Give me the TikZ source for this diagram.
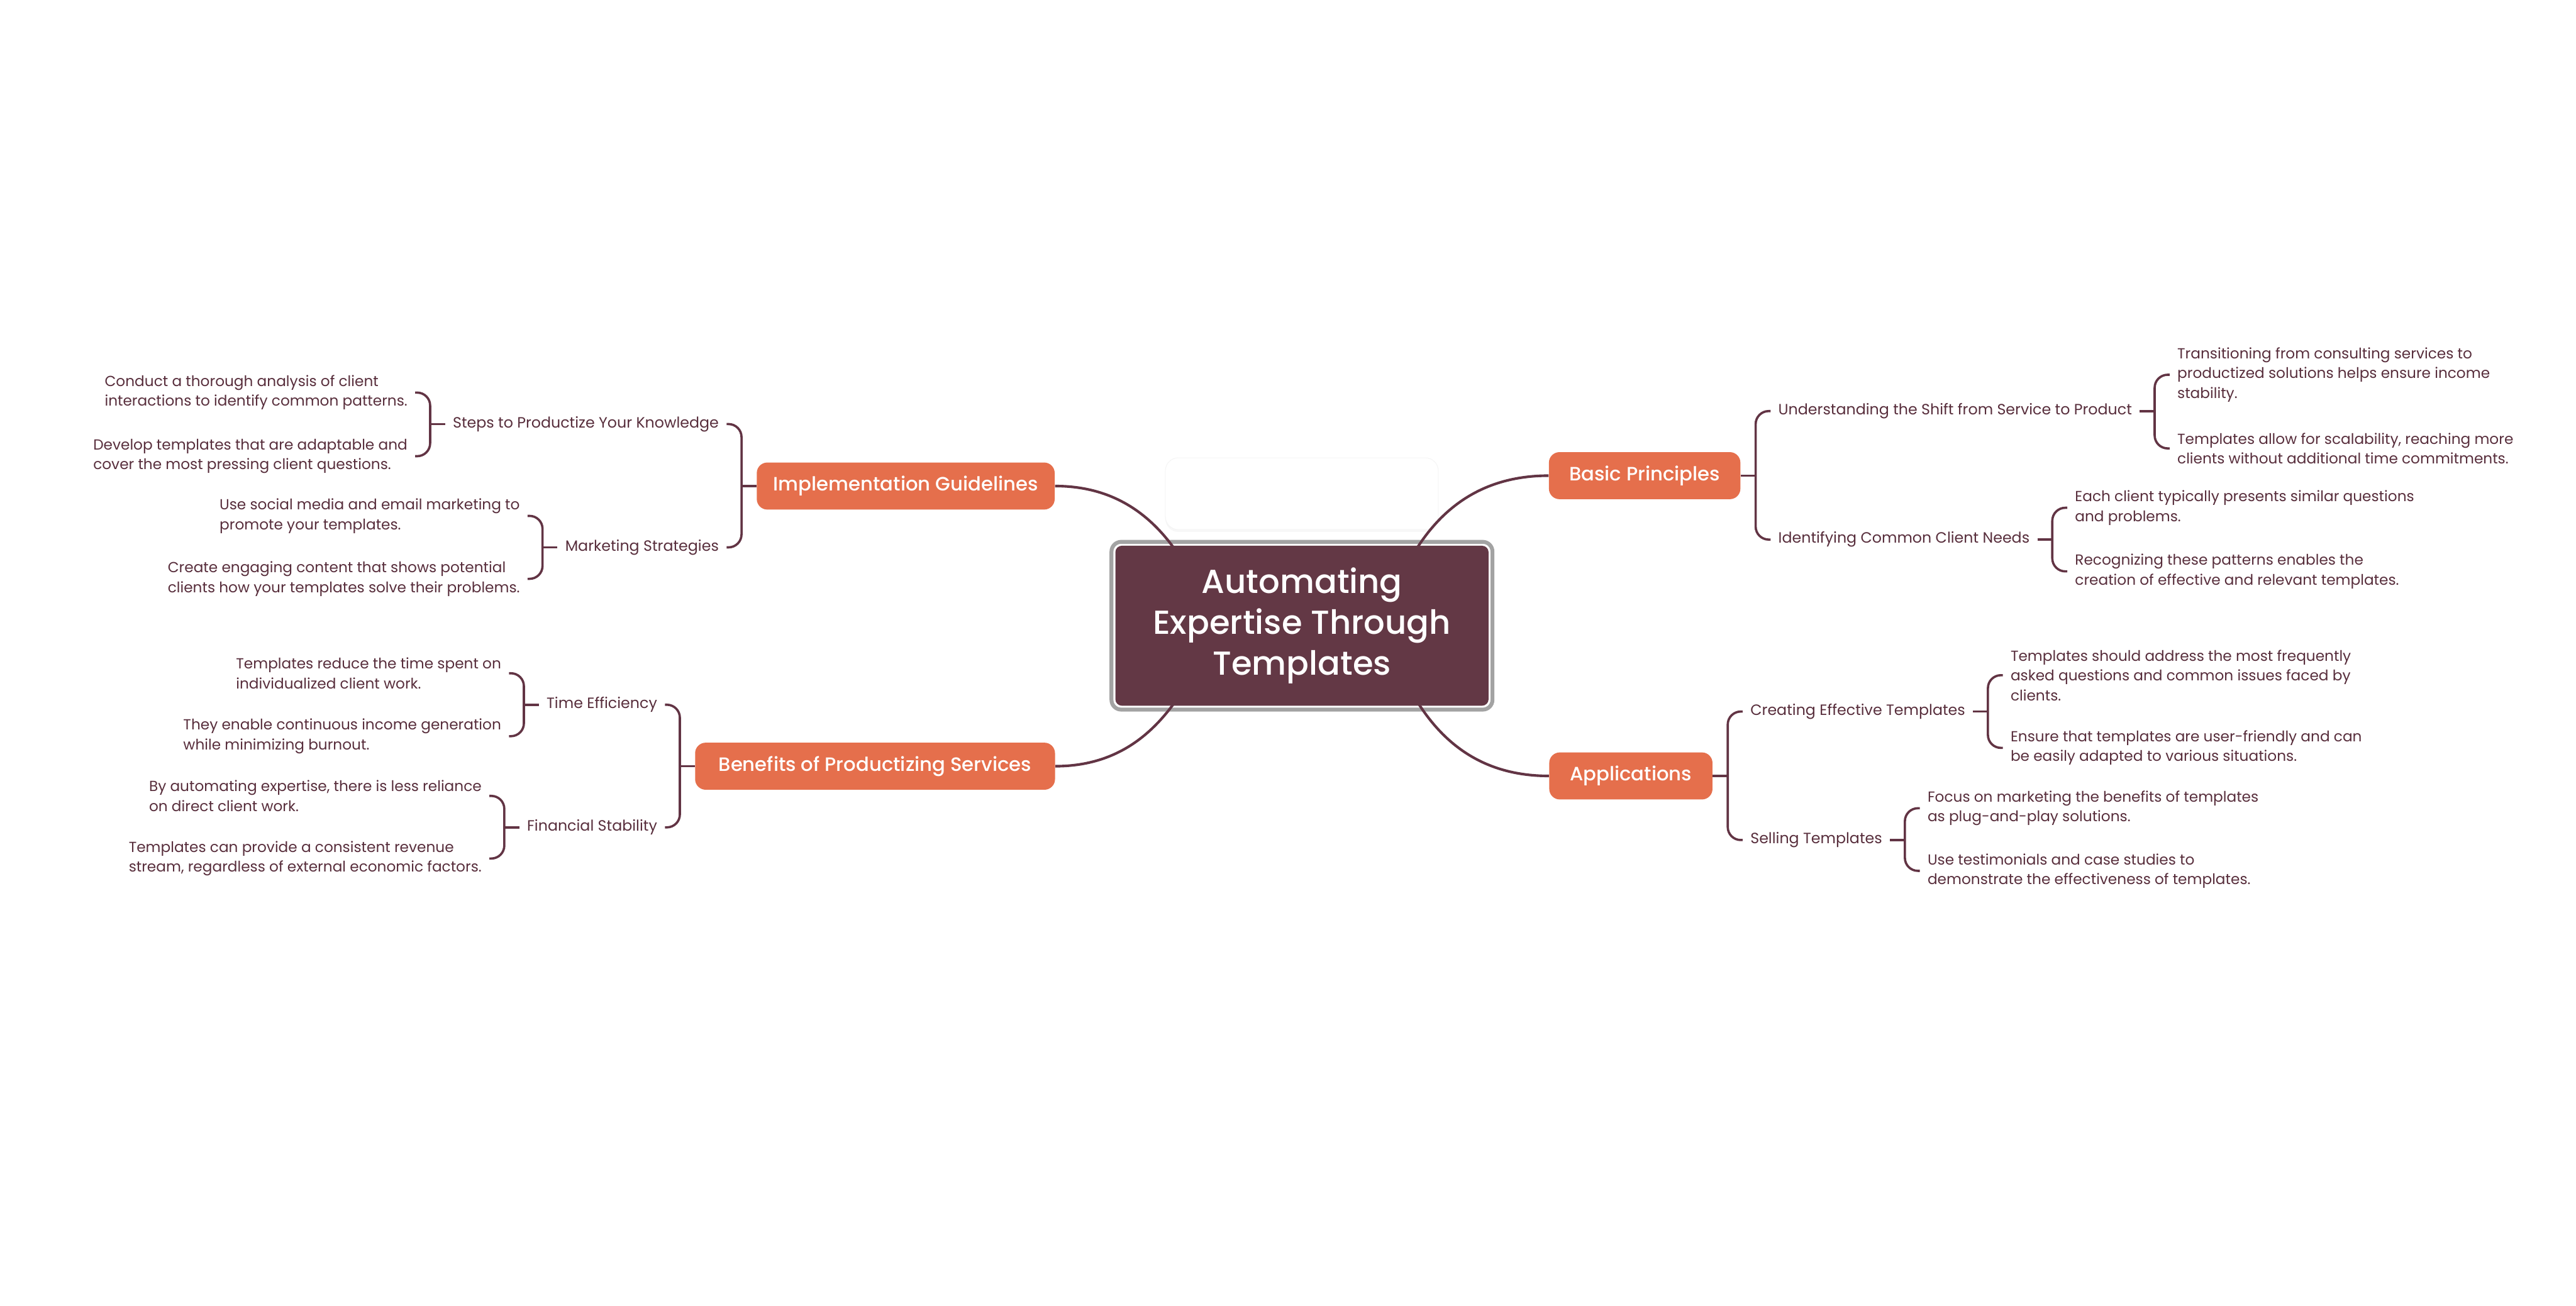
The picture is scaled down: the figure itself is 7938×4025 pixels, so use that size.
\documentclass[tikz,border=0pt]{standalone}
\usepackage{fontspec}
\setmainfont{Poppins}
\newfontfamily\medfont{Poppins Medium}
\usetikzlibrary{calc,backgrounds,shadows}
\definecolor{maroon}{RGB}{99,56,69}
\definecolor{linec}{RGB}{98,52,68}
\definecolor{txtc}{RGB}{88,46,60}
\definecolor{orng}{RGB}{229,111,76}
\definecolor{ringc}{RGB}{163,163,163}
\begin{document}
\begin{tikzpicture}[x=0.2pt,y=-0.2pt,
  rootbox/.style={fill=maroon, rounded corners=4pt, text=white, align=center,
    minimum width=230pt, minimum height=98.6pt, inner sep=0pt,
    font=\medfont\fontsize{20.5pt}{25.3pt}\selectfont},
  mainbox/.style={fill=orng, rounded corners=6.5pt, text=white, minimum height=29pt,
    inner xsep=12.4pt, inner ysep=0pt, font=\medfont\fontsize{11.9pt}{15pt}\selectfont},
  subnode/.style={text=txtc, inner xsep=4.6pt, inner ysep=2pt,
    font=\fontsize{9.2pt}{11pt}\selectfont},
  leafR/.style={text=txtc, align=left, anchor=west, inner xsep=4.6pt, inner ysep=2pt,
    font=\fontsize{9pt}{12.2pt}\selectfont},
  leafL/.style={leafR, anchor=east},
  ghost/.style={fill=white, draw=black!4, rounded corners=8pt, minimum width=168.2pt,
    minimum height=44.2pt, drop shadow={shadow xshift=0pt, shadow yshift=-1.5pt, opacity=0.06}},
  conn/.style={draw=linec, line width=1.6pt},
  brk/.style={draw=linec, line width=1.4pt, rounded corners=8pt},
]
\useasboundingbox (0,0) rectangle (7938,4025);
\begin{scope}[on background layer]
  \fill[white] (0,0) rectangle (7938,4025);
\end{scope}

% root
\node[rootbox] (root) at (4012,1928.5) {Automating\\Expertise Through\\Templates};

% main topics
\node[mainbox, anchor=west, minimum width=118pt] (bp) at (4772,1466) {Basic Principles};
\node[mainbox, anchor=west, minimum width=100.6pt] (ap) at (4773,2391.5) {Applications};
\node[mainbox, anchor=east, inner xsep=10pt, minimum width=183.6pt] (ig) at (3251,1498) {Implementation Guidelines};
\node[mainbox, anchor=east, minimum width=221.8pt] (be) at (3252,2361.5) {Benefits of Productizing Services};

% ---------- Basic Principles
\coordinate (bpv) at ($(bp.east)+(46,0)$);
\coordinate (bpx) at ($(bp.east)+(92,0)$);
\node[subnode, anchor=west] (u) at (bpx |- 0,1267) {Understanding the Shift from Service to Product};
\node[subnode, anchor=west] (id) at (bpx |- 0,1663) {Identifying Common Client Needs};
\coordinate (uv) at ($(u.east)+(46,0)$);
\coordinate (ux) at ($(u.east)+(92,0)$);
\node[leafR] (u1) at (ux |- 0,1155) {Transitioning from consulting services to\\productized solutions helps ensure income\\stability.};
\node[leafR] (u2) at (ux |- 0,1382) {Templates allow for scalability, reaching more\\clients without additional time commitments.};
\coordinate (idv) at ($(id.east)+(46,0)$);
\coordinate (idx) at ($(id.east)+(92,0)$);
\node[leafR] (i1) at (idx |- 0,1565) {Each client typically presents similar questions\\and problems.};
\node[leafR] (i2) at (idx |- 0,1761) {Recognizing these patterns enables the\\creation of effective and relevant templates.};

% ---------- Applications
\coordinate (apv) at ($(ap.east)+(46,0)$);
\coordinate (apx) at ($(ap.east)+(92,0)$);
\node[subnode, anchor=west] (c) at (apx |- 0,2193) {Creating Effective Templates};
\node[subnode, anchor=west] (se) at (apx |- 0,2589) {Selling Templates};
\coordinate (cv) at ($(c.east)+(46,0)$);
\coordinate (cx) at ($(c.east)+(92,0)$);
\node[leafR] (c1) at (cx |- 0,2081) {Templates should address the most frequently\\asked questions and common issues faced by\\clients.};
\node[leafR] (c2) at (cx |- 0,2305) {Ensure that templates are user-friendly and can\\be easily adapted to various situations.};
\coordinate (sev) at ($(se.east)+(46,0)$);
\coordinate (sex) at ($(se.east)+(92,0)$);
\node[leafR] (s1) at (sex |- 0,2491) {Focus on marketing the benefits of templates\\as plug-and-play solutions.};
\node[leafR] (s2) at (sex |- 0,2684) {Use testimonials and case studies to\\demonstrate the effectiveness of templates.};

% ---------- Implementation Guidelines
\coordinate (igv) at ($(ig.west)+(-46,0)$);
\coordinate (igx) at ($(ig.west)+(-92,0)$);
\node[subnode, anchor=east] (st) at (igx |- 0,1307) {Steps to Productize Your Knowledge};
\node[subnode, anchor=east] (ms) at (igx |- 0,1687) {Marketing Strategies};
\coordinate (stv) at ($(st.west)+(-46,0)$);
\coordinate (stx) at ($(st.west)+(-92,0)$);
\node[leafL] (st1) at (stx |- 0,1210) {Conduct a thorough analysis of client\\interactions to identify common patterns.};
\node[leafL] (st2) at (stx |- 0,1406) {Develop templates that are adaptable and\\cover the most pressing client questions.};
\coordinate (msv) at ($(ms.west)+(-46,0)$);
\coordinate (msx) at ($(ms.west)+(-92,0)$);
\node[leafL] (m1) at (msx |- 0,1590) {Use social media and email marketing to\\promote your templates.};
\node[leafL] (m2) at (msx |- 0,1784) {Create engaging content that shows potential\\clients how your templates solve their problems.};

% ---------- Benefits
\coordinate (bev) at ($(be.west)+(-46,0)$);
\coordinate (bex) at ($(be.west)+(-92,0)$);
\node[subnode, anchor=east] (te) at (bex |- 0,2172) {Time Efficiency};
\node[subnode, anchor=east] (fs) at (bex |- 0,2550) {Financial Stability};
\coordinate (tev) at ($(te.west)+(-46,0)$);
\coordinate (tex) at ($(te.west)+(-92,0)$);
\node[leafL] (t1) at (tex |- 0,2075) {Templates reduce the time spent on\\individualized client work.};
\node[leafL] (t2) at (tex |- 0,2269) {They enable continuous income generation\\while minimizing burnout.};
\coordinate (fsv) at ($(fs.west)+(-46,0)$);
\coordinate (fsx) at ($(fs.west)+(-92,0)$);
\node[leafL] (f1) at (fsx |- 0,2453) {By automating expertise, there is less reliance\\on direct client work.};
\node[leafL] (f2) at (fsx |- 0,2646) {Templates can provide a consistent revenue\\stream, regardless of external economic factors.};

% ---------- brackets
\foreach \p/\v/\a/\b in {bp/bpv/u/id, u/uv/u1/u2, id/idv/i1/i2, ap/apv/c/se, c/cv/c1/c2, se/sev/s1/s2}{
  \draw[brk] (\p.east) -- (\v);
  \draw[brk] (\a.west) -| (\v) |- (\b.west);
}
\foreach \p/\v/\a/\b in {ig/igv/st/ms, st/stv/st1/st2, ms/msv/m1/m2, be/bev/te/fs, te/tev/t1/t2, fs/fsv/f1/f2}{
  \draw[brk] (\p.west) -- (\v);
  \draw[brk] (\a.east) -| (\v) |- (\b.east);
}

% ---------- background: ghost box, ring, root connectors
\begin{scope}[on background layer]
  \node[ghost] (gh) at (4011.5,1521.5) {};
  \draw[ringc, line width=2.4pt, rounded corners=6pt]
    ($(root.north west)+(-11,-11)$) rectangle ($(root.south east)+(11,11)$);
  \draw[conn] ($(root.center)+(355,-240)$) .. controls +(81,-126) and +(-200,0) .. (bp.west);
  \draw[conn] ($(root.center)+(359,240)$) .. controls +(81,126) and +(-200,0) .. (ap.west);
  \draw[conn] ($(root.center)+(-395,-240)$) .. controls +(-74,-101) and +(182,0) .. (ig.east);
  \draw[conn] ($(root.center)+(-395,240)$) .. controls +(-74,101) and +(182,0) .. (be.east);
\end{scope}
\end{tikzpicture}
\end{document}
